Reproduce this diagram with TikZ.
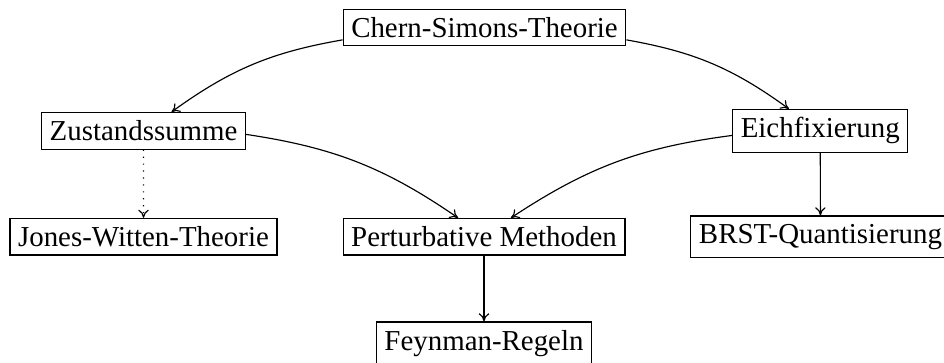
\documentclass[tikz,border=0pt]{standalone}
\usepackage{fontspec}
\setmainfont{Liberation Serif}
\usepackage{tikz}
\usetikzlibrary{arrows.meta,positioning}

\begin{document}
\begin{tikzpicture}[->, >={To[length=2.8pt,width=3.6pt]}, thin, kasten/.style={draw, rectangle, inner sep=2.8pt}]
  \useasboundingbox (0,0) rectangle (11.48,-4.414);
  % Knoten
  \node[kasten] (cs) at (5.892,-0.334) {Chern-Simons-Theorie};
  \node[kasten] (zs) at (1.746,-1.591) {Zustandssumme};
  \node[kasten] (ef) at (9.975,-1.591) {Eichfixierung};
  \node[kasten] (jw) at (1.745,-2.879) {Jones-Witten-Theorie};
  \node[kasten] (pm) at (5.886,-2.879) {Perturbative Methoden};
  \node[kasten] (brst) at (9.978,-2.879) {BRST-Quantisierung};
  \node[kasten] (fr) at (5.886,-4.174) {Feynman-Regeln};

  % Pfeile
  \draw (cs.185) to[bend right=13] (zs.34);
  \draw (cs.355) to[bend left=13] (ef.145);
  \draw (zs.358) to[bend left=13] (pm.144);
  \draw (ef.183) to[bend right=13] (pm.35);
  \draw[dotted] (zs) -- (jw);
  \draw (ef) -- (brst);
  \draw (pm) -- (fr);
\end{tikzpicture}
\end{document}
